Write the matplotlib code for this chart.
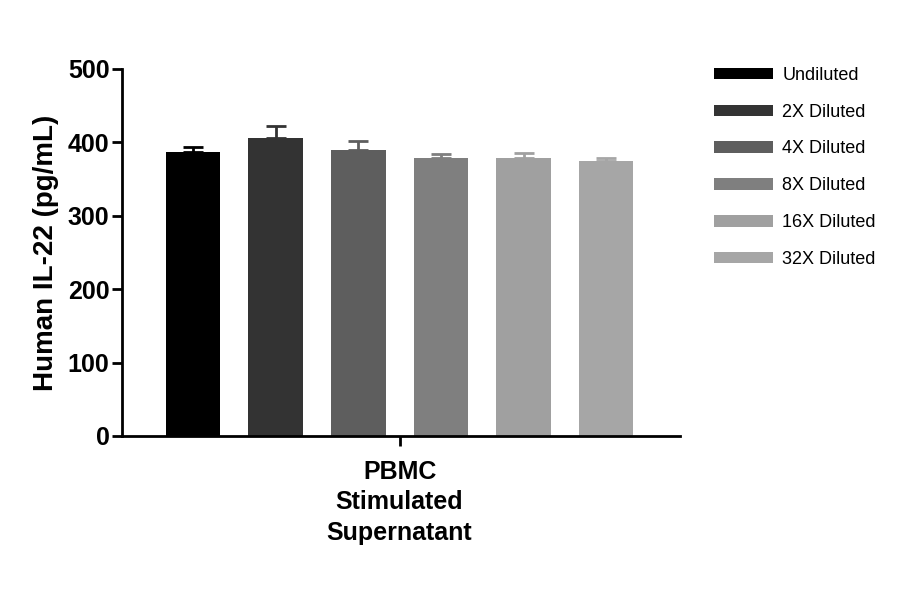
import matplotlib
matplotlib.use("Agg")
import matplotlib.pyplot as plt

labels = ["Undiluted", "2X Diluted", "4X Diluted", "8X Diluted", "16X Diluted", "32X Diluted"]
values = [387, 406, 389, 379, 379, 374]
errors = [7, 16, 13, 5, 6, 4]
colors = ["#000000", "#333333", "#5e5e5e", "#7f7f7f", "#a0a0a0", "#a6a6a6"]

plt.rcParams["font.family"] = ["Liberation Sans", "DejaVu Sans"]

fig = plt.figure(figsize=(9, 5.94), dpi=100)
ax = fig.add_axes([0.1356, 0.266, 0.62, 0.618])

xs = list(range(len(values)))
bars = []
for x, v, e, c, lab in zip(xs, values, errors, colors, labels):
    b = ax.bar(x, v, width=0.66, color=c, label=lab, zorder=2)
    ax.errorbar(x, v, yerr=[[0], [e]], fmt="none", ecolor=c, elinewidth=2,
                capsize=7, capthick=2, zorder=3)
    bars.append(b)

ax.set_xlim(-0.86, 5.895)
ax.set_ylim(0, 500)
ax.set_yticks([0, 100, 200, 300, 400, 500])
ax.set_xticks([2.5])
ax.set_xticklabels(["PBMC\nStimulated\nSupernatant"], fontsize=18, fontweight="bold",
                   linespacing=1.35)
ax.set_ylabel("Human IL-22 (pg/mL)", fontsize=20, fontweight="bold", labelpad=6)
for lbl in ax.get_yticklabels():
    lbl.set_fontweight("bold")
ax.tick_params(axis="y", labelsize=18, width=2, length=7, pad=2)
ax.tick_params(axis="x", width=2, length=7, pad=10)
for s in ["top", "right"]:
    ax.spines[s].set_visible(False)
for s in ["left", "bottom"]:
    ax.spines[s].set_linewidth(2)

fig.legend(handles=bars, labels=labels, loc="upper left", bbox_to_anchor=(0.775, 0.915),
           frameon=False, fontsize=13, handlelength=3.3, handleheight=0.6,
           labelspacing=1.1, handletextpad=0.5)

fig.savefig("out.png", dpi=100)
